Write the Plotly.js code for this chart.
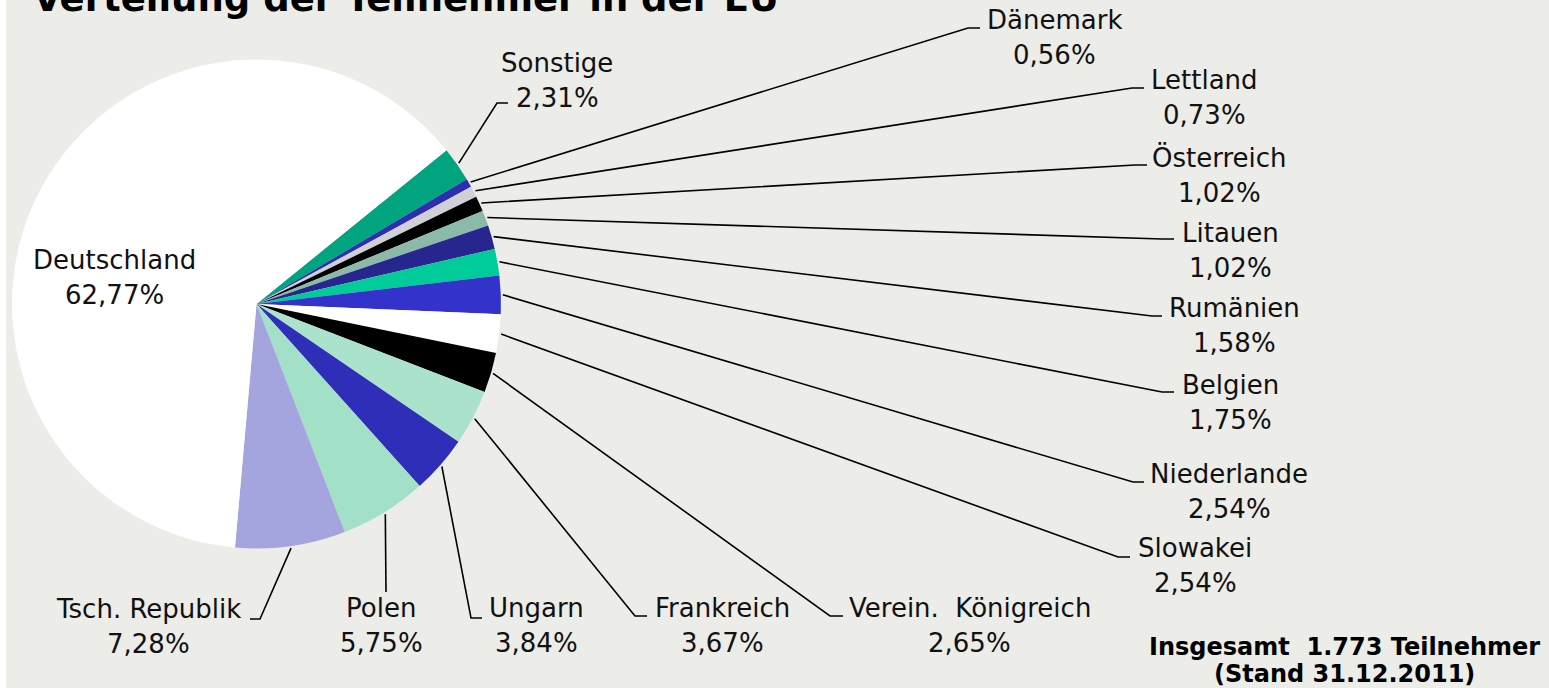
<!DOCTYPE html>
<html>
<head>
<meta charset="utf-8">
<script src="https://cdn.plot.ly/plotly-3.0.1.min.js"></script>
<style>
  html, body { margin: 0; padding: 0; background: #ffffff; }
  #chart { width: 1549px; height: 688px; }
</style>
</head>
<body>
<div id="chart"></div>
<script>
// ---- data ----
const countries = ["Sonstige", "Dänemark", "Lettland", "Österreich", "Litauen", "Rumänien", "Belgien",
  "Niederlande", "Slowakei", "Verein.\u00A0 Königreich", "Frankreich", "Ungarn", "Polen", "Tsch. Republik", "Deutschland"];
const shares = [2.31, 0.56, 0.73, 1.02, 1.02, 1.58, 1.75, 2.54, 2.54, 2.65, 3.67, 3.84, 5.75, 7.28, 62.77];
const sliceColors = ["#00A47E", "#2E2EAE", "#D0D0D6", "#000000", "#8CBAA8", "#26268E", "#00CC99",
  "#3333CC", "#FFFFFF", "#000000", "#AAE2CB", "#2E2EB8", "#A2E0C7", "#A4A4DE", "#FFFFFF"];
const titleText = "Verteilung der Teilnehmer in der EU";
const noteLines = ["Insgesamt\u00A0 1.773 Teilnehmer", "(Stand 31.12.2011)"];

// ---- layout (pixel positions of labels and leader lines) ----
const W = 1549, H = 688;
const CX = 256.5, CY = 304, R = 244.5, ROT = 51;
const labelX = [557, 1054, 1204, 1219, 1230, 1234, 1230, 1229, 1195, 970, 722, 536, 381, 148, 114];
const labelY = [63, 20, 80, 158, 233, 308, 385, 474, 548, 608, 608, 608, 608, 609, 260];
const elbowX = [497, 968, 1132, 1135, 1162, 1152, 1162, 1133, 1118, 830, 635, 471, 386, 260, null];
const elbowY = [103, 28, 88, 165, 239, 316, 392, 482, 557, 616, 616, 618, 592, 619, null];
const tickX  = [508, 980, 1144, 1147, 1174, 1162, 1174, 1144, 1130, 843, 647, 482, 386, 250, null];

const px = x => x / W;
const py = y => 1 - y / H;
const fmt = v => v.toFixed(2).replace('.', ',') + '%';

const total = shares.reduce((a, b) => a + b, 0);
const shapes = [
  {type: 'rect', xref: 'paper', yref: 'paper', x0: 0, x1: px(6), y0: 0, y1: 1,
   fillcolor: '#FFFFFF', line: {width: 0}, layer: 'below'}
];
const annotations = [];
let cum = 0;
shares.forEach((v, i) => {
  const mid = (ROT + (cum + v / 2) / total * 360) * Math.PI / 180;
  cum += v;
  if (elbowX[i] !== null) {
    const sx = CX + (R + 2) * Math.sin(mid);
    const sy = CY - (R + 2) * Math.cos(mid);
    const path = `M ${px(sx)} ${py(sy)} L ${px(elbowX[i])} ${py(elbowY[i])} L ${px(tickX[i])} ${py(elbowY[i])}`;
    shapes.push({type: 'path', xref: 'paper', yref: 'paper', path: path,
      line: {color: '#000000', width: 1.6}});
  }
  const font = {family: 'DejaVu Sans, Verdana, sans-serif', size: 26, color: '#111111'};
  annotations.push({xref: 'paper', yref: 'paper', x: px(labelX[i]), y: py(labelY[i]),
    xanchor: 'center', yanchor: 'middle', text: countries[i], showarrow: false, font: font});
  annotations.push({xref: 'paper', yref: 'paper', x: px(labelX[i]), y: py(labelY[i] + 35),
    xanchor: 'center', yanchor: 'middle', text: fmt(v), showarrow: false, font: font});
});
const noteFont = {family: 'DejaVu Sans, Verdana, sans-serif', size: 24, color: '#000000', weight: 'bold'};
annotations.push({xref: 'paper', yref: 'paper', x: px(1344), y: py(647), xanchor: 'center', yanchor: 'middle',
  text: noteLines[0], showarrow: false, font: noteFont});
annotations.push({xref: 'paper', yref: 'paper', x: px(1344), y: py(674), xanchor: 'center', yanchor: 'middle',
  text: noteLines[1], showarrow: false, font: noteFont});

const trace = {
  type: 'pie',
  labels: countries,
  values: shares,
  sort: false,
  direction: 'clockwise',
  rotation: ROT,
  textinfo: 'none',
  hoverinfo: 'label+percent',
  marker: {colors: sliceColors, line: {width: 0}},
  domain: {x: [px(CX - R), px(CX + R)], y: [py(CY + R), py(CY - R)]},
  showlegend: false
};

const layout = {
  width: W, height: H,
  margin: {l: 0, r: 0, t: 0, b: 0},
  paper_bgcolor: '#ECECE8',
  plot_bgcolor: '#ECECE8',
  showlegend: false,
  title: {text: titleText, xref: 'paper', yref: 'container', x: px(33), xanchor: 'left',
    y: 1 - 11 / H, yanchor: 'bottom',
    font: {family: 'DejaVu Sans, Verdana, sans-serif', size: 37, color: '#000000', weight: 'bold'}},
  shapes: shapes,
  annotations: annotations
};

Plotly.newPlot('chart', [trace], layout, {displayModeBar: false, staticPlot: true});
</script>
</body>
</html>
